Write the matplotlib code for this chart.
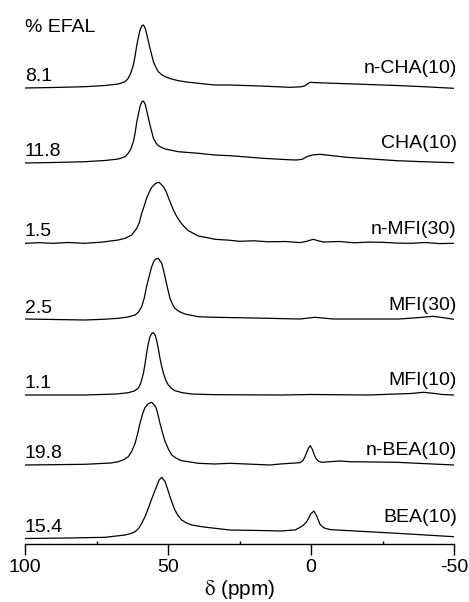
import matplotlib
matplotlib.use("Agg")
import matplotlib.pyplot as plt
from matplotlib.ticker import MultipleLocator

plt.rcParams['font.family'] = ['Liberation Sans', 'DejaVu Sans']
plt.rcParams['mathtext.fontset'] = 'stix'
plt.rcParams['axes.unicode_minus'] = False

# 27Al MAS NMR spectra, chemical shift (ppm) and intensity (a.u.)
ppm_nCHA = [100, 90, 79, 72, 67.4, 65.0, 63.9, 63.0, 62.1, 61.5, 60.9, 59.8, 59.2, 58.6, 58.0,
            57.5, 56.3, 55.1, 54.2, 53.4, 52.2, 51.0, 49.0, 46.4, 43, 39.4, 33.6, 28.3, 18,
            7.3, 3.5, 2.1, 1.0, 0.4, -2, -10, -18.3, -30, -40, -50]
int_nCHA = [0, 0.5, 1.3, 2.5, 4, 6.3, 9.7, 15, 23, 32, 43, 58, 62, 63, 60,
            54.7, 39.7, 26.3, 20.5, 16.3, 13.3, 11.3, 9.2, 7.3, 5.8, 4.7, 3, 3, 2,
            0.7, 1.2, 2.3, 4.5, 5.7, 5.3, 4.5, 3.7, 2.5, 1.2, -0.3]

ppm_CHA = [100, 90, 79, 72, 67.4, 65.0, 63.9, 63.0, 62.1, 61.5, 60.9, 59.8, 59.2, 58.6, 58.0,
           57.5, 56.3, 55.1, 54.2, 53.4, 52.2, 51.0, 46.4, 39.4, 33.6, 28.3, 16.7, 8, 5, 3,
           1.5, -0.5, -3.1, -6, -12.5, -30, -40, -50]
int_CHA = [0, 0.5, 1.3, 2.5, 4, 6.3, 9.7, 14, 21.3, 30, 41.3, 56.3, 61, 62, 59,
           53, 38, 24.7, 20, 17.3, 15.5, 14, 11.3, 9.7, 8, 7.3, 4.7, 3.3, 3, 3.8,
           6.3, 8, 8.7, 7.8, 5.7, 2.3, 1.2, 0.3]

ppm_nMFI30 = [100, 95, 90, 85, 79, 73, 67.4, 65, 62.7, 60.9, 60, 59.2, 58.3, 57.5, 56.6,
              55.7, 54.3, 53.1, 51.6, 50.7, 49.9, 49, 48.1, 47, 45.8, 44.3, 42.9, 39.4,
              36, 33.6, 29, 25, 20, 15, 9, 3.8, 1.5, -0.8, -2.5, -4.3, -10, -15, -20,
              -25, -30, -35, -40, -45, -50]
int_nMFI30 = [0, 0.6, 0, 0.8, 0, 1.2, 3.3, 5, 8.3, 15, 21, 30, 37.5, 45, 51,
              56, 60, 61, 56.7, 52, 46, 39.5, 33.3, 27, 21.7, 16.5, 12.7, 7.3,
              5.5, 4, 3.2, 2, 2.5, 1.5, 1.8, 0.7, 2, 4, 2.5, 1.3, 1.8, 0.5, 1.2,
              1, 0.2, 0, 0.8, -0.3, 0]

ppm_MFI30 = [100, 90, 79, 72, 67.4, 64, 61.5, 60.3, 59.2, 58.3, 57.5, 56.6, 55.7, 55, 54.3,
             53.4, 52.2, 51.5, 50.8, 50, 49.3, 48.4, 47.6, 46, 44.1, 39.4, 33.6, 20, 3.8,
             -1.4, -7.7, -20, -31, -38, -42.7, -47, -50]
int_MFI30 = [1, 0.5, 0, 0.8, 1.7, 3, 5, 8, 13.3, 22, 33.3, 43.5, 53.3, 58.5, 61,
             61.7, 56.7, 49, 40, 30, 21.7, 15.5, 11.7, 8.3, 6, 3.3, 2.7, 2, 1,
             2.7, 1, 1, 1, 2.5, 3.7, 2, 0.7]

ppm_MFI10 = [100, 79, 68, 63.9, 61.8, 60.4, 59.5, 58.6, 58.0, 57.5, 56.9, 56.3, 55.7, 55.1,
             54.5, 54.0, 53.4, 52.8, 52.2, 51.6, 50.8, 49.9, 48.7, 47.6, 45, 41.7, 33.6,
             10, 0, -20, -35, -39.3, -42.7, -46, -50]
int_MFI10 = [0, 0, 1, 2.3, 4, 6.7, 12, 21.7, 31.5, 41.7, 51, 58.3, 61.5, 62.3,
             60, 55, 46.5, 36.7, 28.5, 21.7, 15, 10, 6.5, 4.3, 2.3, 1, 0.3,
             0, 0.5, 0, 1.5, 2.7, 1.7, 0.5, 0]

ppm_nBEA = [100, 79, 70, 67.4, 65.5, 63.9, 62.7, 61.5, 60.6, 59.8, 58.9, 58.0, 56.8, 55.7,
            54.3, 53.5, 52.8, 51.9, 51.0, 49.8, 48.7, 47, 45.2, 39.4, 33.6, 28.3, 14.3,
            10.8, 3.8, 2.8, 2.1, 1.5, 0.9, 0.24, -0.6, -1.1, -1.7, -2.5, -3.7, -10.1,
            -13.6, -30, -50]
int_nBEA = [0, 0.7, 2, 3.3, 5.3, 8.3, 13.5, 21.7, 31.5, 41.7, 51, 57.7, 61.5, 62.7,
            58.3, 50.5, 41.7, 32, 23.3, 15.5, 10, 6.5, 4.3, 1.7, 1, 1.7, 0,
            1, 2.3, 4.5, 8.3, 12.5, 16.7, 19.3, 15, 10.5, 6.7, 4, 2.7, 4,
            3.3, 2.7, 0]

ppm_BEA = [100, 85, 72, 65, 63, 61.5, 60.3, 59.2, 58, 56.9, 55.7, 54.5, 53.1, 52.2, 51.0,
           50.1, 49.3, 48.4, 47.6, 46.4, 45.2, 43.5, 41.7, 38.2, 33.6, 28.3, 14.3, 10.8,
           5.5, 3.8, 2.6, 1.5, 0.7, 0.1, -1.0, -2.0, -3.1, -3.9, -4.9, -7, -13.6, -30, -50]
int_BEA = [0, 0.5, 1.2, 3.5, 5, 6.8, 10, 15.2, 22, 30.2, 39.5, 48.5, 58.5, 61.2, 56.8,
           49, 41.8, 34.5, 28.5, 22.5, 18.5, 15.5, 13.5, 11.8, 10.2, 8.5, 7.8, 7.5,
           8.6, 11.2, 13.5, 16.8, 21, 24.5, 27.5, 22.5, 14.5, 12, 10.2, 8.8, 7.8, 5.2, 1.8]

samples = ['n-CHA(10)', 'CHA(10)', 'n-MFI(30)', 'MFI(30)', 'MFI(10)', 'n-BEA(10)', 'BEA(10)']
efal = ['8.1', '11.8', '1.5', '2.5', '1.1', '19.8', '15.4']

spectra = [(ppm_nCHA, int_nCHA), (ppm_CHA, int_CHA), (ppm_nMFI30, int_nMFI30),
           (ppm_MFI30, int_MFI30), (ppm_MFI10, int_MFI10), (ppm_nBEA, int_nBEA),
           (ppm_BEA, int_BEA)]

# vertical stacking of the traces and label heights above each trace
offsets = [456, 381, 300.7, 224, 149, 79, 5.5]
name_dy = [15, 15, 9, 10, 10, 10, 17]

fig = plt.figure(figsize=(4.69, 6.02), dpi=100)
ax = fig.add_axes([25 / 469, 58 / 602, 429 / 469, 544 / 602])

for (x, y), off, name, val, dy in zip(spectra, offsets, samples, efal, name_dy):
    ax.plot(x, [v + off for v in y], color='black', lw=0.9, solid_joinstyle='round')
    ax.text(100, off + 7, val, fontsize=14, ha='left', va='baseline')
    ax.text(-51, off + dy, name, fontsize=14, ha='right', va='baseline')

ax.text(100, 512, '% EFAL', fontsize=14, ha='left', va='baseline')

ax.set_xlim(100, -50)
ax.set_ylim(0, 544)
for s in ['top', 'left', 'right']:
    ax.spines[s].set_visible(False)
ax.spines['bottom'].set_linewidth(1.0)
ax.set_yticks([])
ax.set_xticks([100, 50, 0, -50])
ax.xaxis.set_minor_locator(MultipleLocator(25))
ax.tick_params(axis='x', which='major', direction='out', length=8, width=1.0,
               labelsize=14, pad=3)
ax.tick_params(axis='x', which='minor', direction='in', length=2, width=1.0)
ax.set_xlabel(r'$\mathrm{\delta}$ (ppm)', fontsize=15, labelpad=1)

fig.savefig('out.png', dpi=100)
